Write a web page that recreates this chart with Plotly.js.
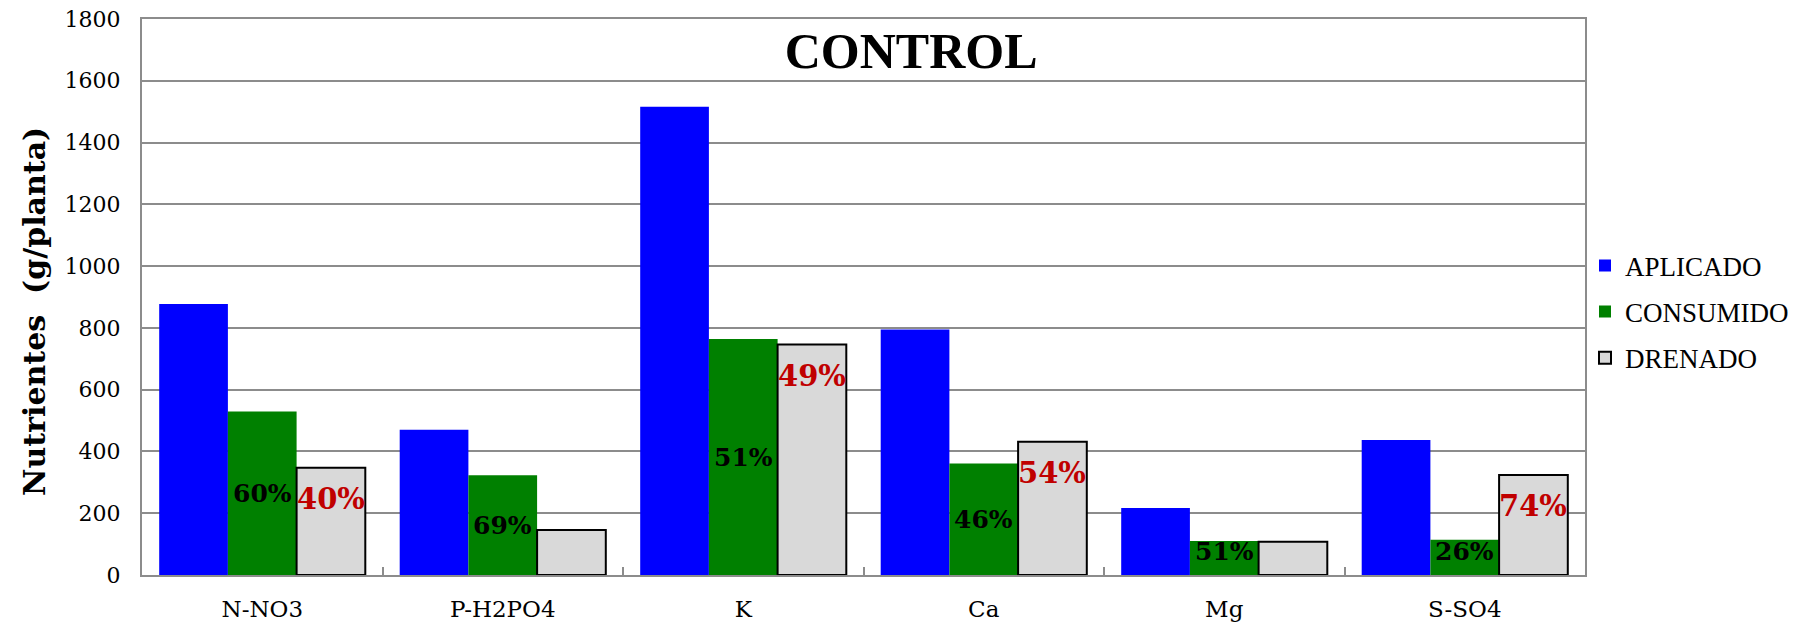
<!DOCTYPE html>
<html>
<head>
<meta charset="utf-8">
<script src="https://cdn.plot.ly/plotly-3.0.1.min.js"></script>
<style>
  html, body { margin: 0; padding: 0; background: #ffffff; }
  #chart { width: 1812px; height: 626px; }
</style>
</head>
<body>
<div id="chart"></div>
<script>
// ---- Data ----
const categories = ['N-NO3', 'P-H2PO4', 'K', 'Ca', 'Mg', 'S-SO4'];
const aplicado   = [877, 470, 1516, 795, 217, 437];
const consumido  = [529, 323, 764, 361, 110, 114];
const drenado    = [347, 146, 746, 431, 108, 324];
const consumidoPct = ['60%', '69%', '51%', '46%', '51%', '26%'];
const drenadoPct   = ['40%', '', '49%', '54%', '', '74%'];
const yTicks = [0, 200, 400, 600, 800, 1000, 1200, 1400, 1600, 1800];

// ---- Layout constants ----
const W = 1812, H = 626;
const M = { l: 142, r: 227, t: 19, b: 51 };
const Y_MAX = 1800;
const BARGAP = 0.143;
const ppu = (H - M.t - M.b) / Y_MAX;   // pixels per data unit
const barW = (1 - BARGAP) / 3;        // width of one bar in category units

const traces = [
  {
    type: 'bar', name: 'APLICADO', x: categories, y: aplicado,
    marker: { color: '#0000FF', line: { width: 0 } },
    legendgroup: 'a', hoverinfo: 'skip'
  },
  {
    type: 'bar', name: 'CONSUMIDO', x: categories, y: consumido,
    marker: { color: '#008000', line: { width: 0 } },
    legendgroup: 'c', hoverinfo: 'skip'
  },
  {
    type: 'bar', name: 'DRENADO', x: categories, y: drenado,
    marker: { color: '#D9D9D9', line: { color: '#000000', width: 2 } },
    legendgroup: 'd', hoverinfo: 'skip'
  }
];

// Percentage labels placed relative to the bars (derived from the data)
const annotations = [];
categories.forEach((c, i) => {
  if (consumidoPct[i]) {
    const centerPx = Math.max(consumido[i] / 2 * ppu, 24);
    annotations.push({
      xref: 'x', yref: 'y', x: i, y: 0, yshift: centerPx,
      text: '<b>' + consumidoPct[i] + '</b>', showarrow: false,
      xanchor: 'center', yanchor: 'middle',
      font: { family: 'DejaVu Serif', size: 25, color: '#000000' }
    });
  }
  if (drenadoPct[i]) {
    annotations.push({
      xref: 'x', yref: 'y', x: i + barW, y: drenado[i], yshift: -31,
      text: '<b>' + drenadoPct[i] + '</b>', showarrow: false,
      xanchor: 'center', yanchor: 'middle',
      font: { family: 'DejaVu Serif', size: 29, color: '#C00000' }
    });
  }
});

const layout = {
  width: W, height: H,
  margin: M,
  paper_bgcolor: '#ffffff', plot_bgcolor: '#ffffff',
  barmode: 'group', bargap: BARGAP, bargroupgap: 0,
  title: {
    text: '<b>CONTROL</b>',
    font: { family: 'Liberation Serif', size: 50, color: '#000000' },
    xref: 'paper', x: 0.533, xanchor: 'center',
    yref: 'container', y: 1 - 50 / H, yanchor: 'middle'
  },
  xaxis: {
    type: 'category',
    tickfont: { family: 'DejaVu Serif', size: 23, color: '#000000' },
    showline: true, linecolor: '#8C8C8C', linewidth: 2, mirror: true,
    ticks: 'inside', tickson: 'boundaries', ticklen: 8, tickcolor: '#8C8C8C', tickwidth: 2,
    ticklabelstandoff: 12,
    showgrid: false, zeroline: false, automargin: false, fixedrange: true
  },
  yaxis: {
    range: [0, Y_MAX],
    tickvals: yTicks,
    tickfont: { family: 'DejaVu Serif', size: 22, color: '#000000' },
    showline: true, linecolor: '#8C8C8C', linewidth: 2, mirror: true,
    showgrid: true, gridcolor: '#8C8C8C', gridwidth: 2,
    zeroline: false, ticks: '', ticklabelstandoff: 15,
    automargin: false, fixedrange: true,
    title: {
      text: '<b>Nutrientes  (g/planta)</b>&nbsp;&nbsp;&nbsp;',
      font: { family: 'DejaVu Serif', size: 30, color: '#000000' },
      standoff: 10
    }
  },
  legend: {
    x: 1.0, xanchor: 'left', xref: 'paper',
    y: 0.60, yanchor: 'top', yref: 'paper',
    font: { family: 'Liberation Serif', size: 27, color: '#000000' },
    tracegroupgap: 8,
    bgcolor: 'rgba(0,0,0,0)', borderwidth: 0
  },
  annotations: annotations,
  showlegend: true
};

Plotly.newPlot('chart', traces, layout, { staticPlot: true, displayModeBar: false });
</script>
</body>
</html>
